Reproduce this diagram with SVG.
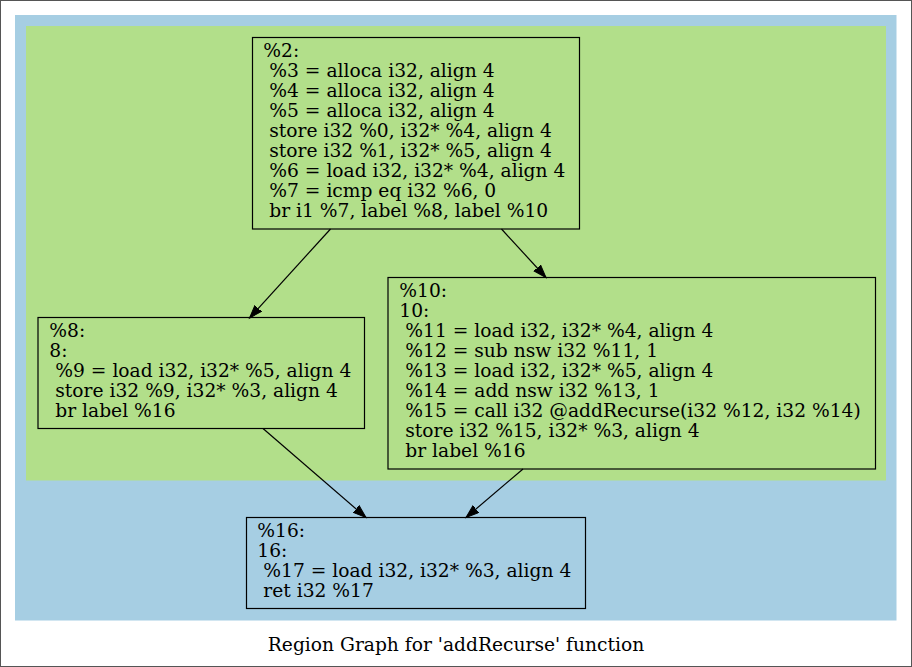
<svg xmlns="http://www.w3.org/2000/svg" width="912" height="667" viewBox="0 0 912 667">
<style>
text{font-family:"DejaVu Serif","Liberation Serif",serif;font-size:18.67px;fill:#000}
.node{stroke:#000;stroke-width:1.2}
.edge{stroke:#000;stroke-width:1.2;fill:none}
</style>
<defs>
<marker id="ah" markerUnits="userSpaceOnUse" markerWidth="15" markerHeight="11" refX="13" refY="5" orient="auto">
<path d="M0,0.5 L13,5 L0,9.5 Z" fill="#000" stroke="#000" stroke-width="1"/>
</marker>
</defs>
<rect x="0.5" y="0.5" width="911" height="666" fill="#fff" stroke="#555"/>
<rect id="cluster_outer" x="15" y="15" width="881.5" height="605.5" fill="#a6cee3"/>
<rect id="cluster_inner" x="26" y="26" width="860" height="454.5" fill="#b2df8a"/>
<g id="connectors">
<path class="edge" d="M330.5,229 L249.5,318" marker-end="url(#ah)"/>
<path class="edge" d="M501.5,229 L546,277.5" marker-end="url(#ah)"/>
<path class="edge" d="M263,428.5 L366,517.5" marker-end="url(#ah)"/>
<path class="edge" d="M523,469 L466,517.5" marker-end="url(#ah)"/>
</g>
<g id="node2">
<rect class="node" x="252.5" y="37.5" width="327" height="191.5" fill="none"/>
<text x="263.3" y="57.3">%2:</text>
<text x="269.3" y="77.3">%3 = alloca i32, align 4</text>
<text x="269.3" y="97.3">%4 = alloca i32, align 4</text>
<text x="269.3" y="117.3">%5 = alloca i32, align 4</text>
<text x="269.3" y="137.3">store i32 %0, i32* %4, align 4</text>
<text x="269.3" y="157.3">store i32 %1, i32* %5, align 4</text>
<text x="269.3" y="177.3">%6 = load i32, i32* %4, align 4</text>
<text x="269.3" y="197.3">%7 = icmp eq i32 %6, 0</text>
<text x="269.3" y="217.3">br i1 %7, label %8, label %10</text>
</g>
<g id="node8">
<rect class="node" x="38" y="317.5" width="326.5" height="111" fill="none"/>
<text x="49.3" y="337.3">%8:</text>
<text x="49.3" y="357.3">8:</text>
<text x="55.3" y="377.3">%9 = load i32, i32* %5, align 4</text>
<text x="55.3" y="397.3">store i32 %9, i32* %3, align 4</text>
<text x="55.3" y="417.3">br label %16</text>
</g>
<g id="node10">
<rect class="node" x="388" y="277.5" width="487.5" height="191.5" fill="none"/>
<text x="399.3" y="297.3">%10:</text>
<text x="399.3" y="317.3">10:</text>
<text x="405.3" y="337.3">%11 = load i32, i32* %4, align 4</text>
<text x="405.3" y="357.3">%12 = sub nsw i32 %11, 1</text>
<text x="405.3" y="377.3">%13 = load i32, i32* %5, align 4</text>
<text x="405.3" y="397.3">%14 = add nsw i32 %13, 1</text>
<text x="405.3" y="417.3">%15 = call i32 @addRecurse(i32 %12, i32 %14)</text>
<text x="405.3" y="437.3">store i32 %15, i32* %3, align 4</text>
<text x="405.3" y="457.3">br label %16</text>
</g>
<g id="node16">
<rect class="node" x="246.5" y="517.5" width="339" height="91" fill="none"/>
<text x="257.3" y="537.3">%16:</text>
<text x="257.3" y="557.3">16:</text>
<text x="263.3" y="577.3">%17 = load i32, i32* %3, align 4</text>
<text x="263.3" y="597.3">ret i32 %17</text>
</g>
<text x="456" y="650.5" text-anchor="middle">Region Graph for 'addRecurse' function</text>
</svg>
